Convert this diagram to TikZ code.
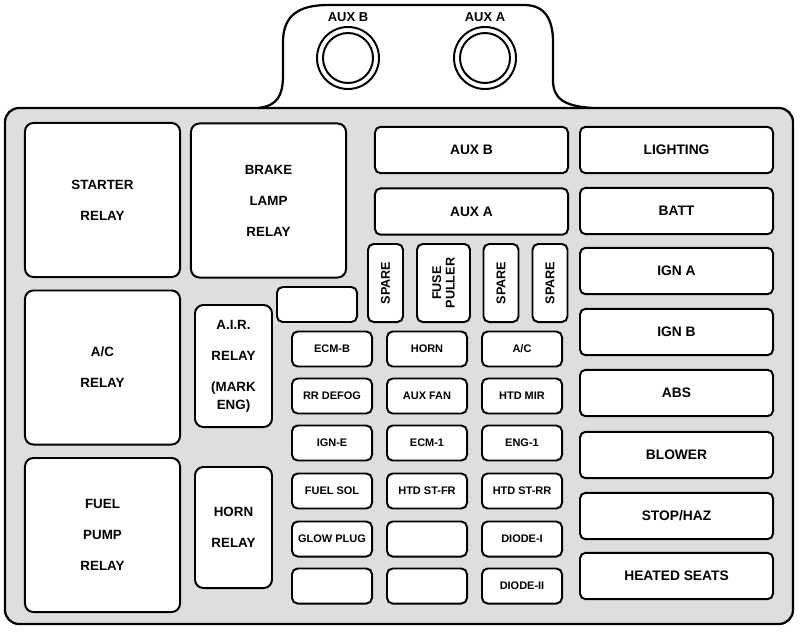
\documentclass[tikz,border=0pt]{standalone}
\usepackage{fontspec}
\setsansfont{Liberation Sans}
\usetikzlibrary{positioning}
\definecolor{panelgray}{RGB}{222,222,222}
\tikzset{
  outline/.style  = {line width=1.6pt, line join=round},
  slot/.style     = {draw, line width=1.4pt, fill=white, rounded corners=4pt,
                     inner sep=0pt, font=\sffamily\bfseries},
  relay/.style    = {slot, rounded corners=6pt, align=center,
                     font=\sffamily\bfseries\fontsize{9.5}{22}\selectfont},
  bigrelay/.style = {relay, minimum width=3.875cm, minimum height=3.85cm},
  minirelay/.style= {relay, minimum width=1.925cm},
  fuse/.style     = {slot, minimum width=2cm, minimum height=0.875cm,
                     font=\sffamily\bfseries\fontsize{7.8}{9}\selectfont},
  maxi/.style     = {slot, minimum width=4.825cm, minimum height=1.16cm,
                     font=\sffamily\bfseries\fontsize{9.8}{11}\selectfont},
  spare/.style    = {slot, rotate=90, minimum width=1.95cm, minimum height=0.875cm,
                     align=center, font=\sffamily\bfseries\fontsize{9}{9.5}\selectfont},
  socket/.style   = {circle, draw, line width=1.4pt, fill=white, inner sep=0pt},
  tag/.style      = {font=\sffamily\bfseries\fontsize{9.2}{10}\selectfont},
}
\begin{document}
\begin{tikzpicture}[x=0.025cm,y=-0.025cm]
 \useasboundingbox (0,0) rectangle (800,632);
 % top tab, then panel over its foot
 \draw[outline, fill=white] (258,108) .. controls (277,106) and (283,96) .. (283,75)
     -- (283,42) .. controls (283,16) and (298,5) .. (328,5) -- (524,5)
     .. controls (544,5) and (553,18) .. (553,42) -- (553,80)
     .. controls (553,98) and (563,106) .. (592,108);
 \draw[outline, fill=panelgray, rounded corners=10pt] (5,108) rectangle (793,624);
 % aux sockets
 \foreach \nm/\lbl/\cx in {auxb/AUX B/348, auxa/AUX A/485}{
   \node[socket, minimum size=1.55cm] (\nm ring) at (\cx,58) {};
   \node[socket, minimum size=1.25cm] (\nm hole) at (\nm ring) {};
   \node[tag] (\nm tag) at (\cx,17) {\lbl};}
 % relays
 \node[bigrelay] (starter) at (102.5,200) {STARTER\\RELAY};
 \node[bigrelay] (brake) at (268.5,200.5) {BRAKE\\LAMP\\RELAY};
 \node[bigrelay] (acrelay) at (102.5,367.5) {A/C\\RELAY};
 \node[bigrelay] (fuelpump) at (102.5,535) {FUEL\\PUMP\\RELAY};
 \node[minirelay, minimum height=3.05cm] (air) at (233.5,366)
     {A.I.R.\\RELAY\\(MARK\\[-9pt]ENG)};
 \node[minirelay, minimum height=3.025cm] (hornrelay) at (233.5,527.5) {HORN\\RELAY};
 \node[fuse] (blank0) at (317,304.5) {};
 % maxi fuses
 \node[maxi] (auxbfuse) at (471.5,150) {AUX B};
 \node[maxi] (auxafuse) at (471.5,211.5) {AUX A};
 \foreach \nm/\lbl/\cy in {lighting/LIGHTING/150, batt/BATT/211, igna/IGN A/271,
     ignb/IGN B/332, abs/ABS/393, blower/BLOWER/455, stophaz/{STOP/HAZ}/516,
     heated/HEATED SEATS/576}{
   \node[maxi] (\nm) at (676.5,\cy) {\lbl};}
 % spares and puller
 \node[spare] (spare1) at (385.5,283) {SPARE};
 \node[spare, minimum height=1.325cm] (puller) at (443.5,283) {FUSE\\PULLER};
 \node[spare] (spare2) at (501,283) {SPARE};
 \node[spare] (spare3) at (550,283) {SPARE};
 % mini fuses
 \foreach \nm/\lbl/\cx/\cy in {ecmb/ECM-B/332/349, horn/HORN/427/349, ac/{A/C}/522/349,
     rrdefog/RR DEFOG/332/396, auxfan/AUX FAN/427/396, htdmir/HTD MIR/522/396,
     igne/IGN-E/332/443, ecm1/ECM-1/427/443, eng1/ENG-1/522/443,
     fuelsol/FUEL SOL/332/491, htdstfr/HTD ST-FR/427/491, htdstrr/HTD ST-RR/522/491,
     glowplug/GLOW PLUG/332/539, blank1//427/539, diode1/DIODE-I/522/539,
     blank2//332/586, blank3//427/586, diode2/DIODE-II/522/586}{
   \node[fuse] (\nm) at (\cx,\cy) {\lbl};}
\end{tikzpicture}
\end{document}
